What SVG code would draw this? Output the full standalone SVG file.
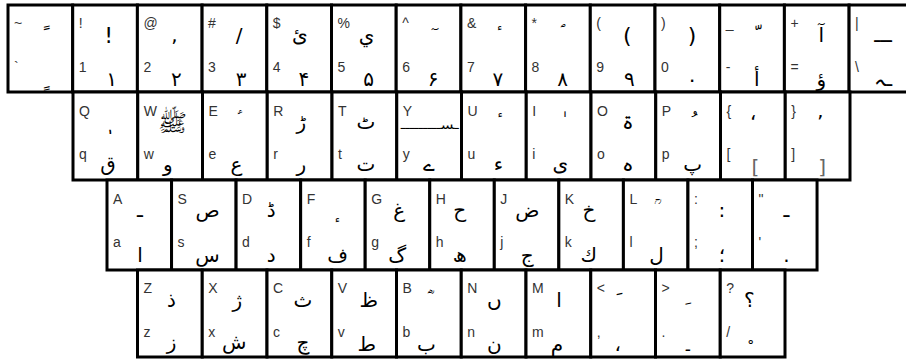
<svg xmlns="http://www.w3.org/2000/svg" width="906" height="360" viewBox="0 0 906 360">
<style>
.k{fill:#fff;stroke:#000;stroke-width:3}
.l{font-family:"Liberation Sans",Arial,sans-serif;font-size:14px;fill:#333}
.a{font-family:"DejaVu Sans",sans-serif;font-size:20px;fill:#000;text-anchor:middle}
.g{fill:#666}
</style>
<rect width="906" height="360" fill="#fff"/>
<g id="row1">
<g id="k-tilde" transform="translate(8,5)"><rect class="k" width="64.7" height="87"/><text class="l" x="6" y="23">~</text><text class="l" x="6" y="67">`</text><text class="a" x="37" y="37">&#160;&#x064B;</text><text class="a" x="37" y="81">&#160;&#x064D;</text></g>
<g id="k-1" transform="translate(72.7,5)"><rect class="k" width="64.7" height="87"/><text class="l" x="6" y="23">!</text><text class="l" x="6" y="67">1</text><text class="a" x="36" y="38" style="font-size:22px">!</text><text class="a" x="39" y="81">۱</text></g>
<g id="k-2" transform="translate(137.4,5)"><rect class="k" width="64.7" height="87"/><text class="l" x="6" y="23">@</text><text class="l" x="6" y="67">2</text><text class="a" x="37" y="37">,</text><text class="a" x="39" y="81">۲</text></g>
<g id="k-3" transform="translate(202.1,5)"><rect class="k" width="64.7" height="87"/><text class="l" x="6" y="23">#</text><text class="l" x="6" y="67">3</text><text class="a" x="37" y="37">/</text><text class="a" x="39" y="81">۳</text></g>
<g id="k-4" transform="translate(266.8,5)"><rect class="k" width="64.7" height="87"/><text class="l" x="6" y="23">$</text><text class="l" x="6" y="67">4</text><text class="a" x="33" y="37">ئ</text><text class="a" x="37" y="81">۴</text></g>
<g id="k-5" transform="translate(331.5,5)"><rect class="k" width="64.7" height="87"/><text class="l" x="6" y="23">%</text><text class="l" x="6" y="67">5</text><text class="a" x="35" y="37">ي</text><text class="a" x="37" y="81">۵</text></g>
<g id="k-6" transform="translate(396.2,5)"><rect class="k" width="64.7" height="87"/><text class="l" x="6" y="23">^</text><text class="l" x="6" y="67">6</text><text class="a" x="37" y="37">&#160;&#x0653;</text><text class="a" x="37" y="81">۶</text></g>
<g id="k-7" transform="translate(460.9,5)"><rect class="k" width="64.7" height="87"/><text class="l" x="6" y="23">&amp;</text><text class="l" x="6" y="67">7</text><text class="a" x="37" y="37">&#160;&#x0654;</text><text class="a" x="37" y="81">۷</text></g>
<g id="k-8" transform="translate(525.6,5)"><rect class="k" width="64.7" height="87"/><text class="l" x="6" y="23">*</text><text class="l" x="6" y="67">8</text><text class="a" x="37" y="37">&#160;&#x0610;</text><text class="a" x="37" y="81">۸</text></g>
<g id="k-9" transform="translate(590.3,5)"><rect class="k" width="64.7" height="87"/><text class="l" x="6" y="23">(</text><text class="l" x="6" y="67">9</text><text class="a" x="37" y="38" style="font-size:22px">(</text><text class="a" x="39" y="81">۹</text></g>
<g id="k-0" transform="translate(655,5)"><rect class="k" width="64.7" height="87"/><text class="l" x="6" y="23">)</text><text class="l" x="6" y="67">0</text><text class="a" x="37" y="38" style="font-size:22px">)</text><text class="a" x="37" y="81">۰</text></g>
<g id="k-minus" transform="translate(719.7,5)"><rect class="k" width="64.7" height="87"/><text class="l" x="6" y="23">_</text><text class="l" x="6" y="67">-</text><text class="a" x="37" y="37">&#160;&#x0651;</text><text class="a" x="37" y="81">أ</text></g>
<g id="k-equal" transform="translate(784.4,5)"><rect class="k" width="64.7" height="87"/><text class="l" x="6" y="23">+</text><text class="l" x="6" y="67">=</text><text class="a" x="37" y="37">آ</text><text class="a" x="37" y="81">ؤ</text></g>
<g id="k-backslash" transform="translate(849.1,5)"><rect class="k" width="64.7" height="87"/><text class="l" x="6" y="23">|</text><text class="l" x="6" y="67">\</text><text class="a" x="34" y="37">ـــ</text><text class="a" x="34" y="81">ـہ</text></g>
</g>
<g id="row2">
<g id="k-q" transform="translate(73,92)"><rect class="k" width="64.75" height="88"/><text class="l" x="6" y="24">Q</text><text class="l" x="6" y="67">q</text><text class="a" x="37" y="37">&#160;&#x0656;</text><text class="a" x="35" y="79">ق</text></g>
<g id="k-w" transform="translate(137.75,92)"><rect class="k" width="64.75" height="88"/><text class="l" x="6" y="24">W</text><text class="l" x="6" y="67">w</text><text class="a" x="35" y="39" style="font-size:24px">ﷺ</text><text class="a" x="30" y="79">و</text></g>
<g id="k-e" transform="translate(202.5,92)"><rect class="k" width="64.75" height="88"/><text class="l" x="6" y="24">E</text><text class="l" x="6" y="67">e</text><text class="a" x="37" y="37">&#160;&#x0611;</text><text class="a" x="34" y="79">ع</text></g>
<g id="k-r" transform="translate(267.25,92)"><rect class="k" width="64.75" height="88"/><text class="l" x="6" y="24">R</text><text class="l" x="6" y="67">r</text><text class="a" x="34" y="37">ڑ</text><text class="a" x="34" y="79">ر</text></g>
<g id="k-t" transform="translate(332,92)"><rect class="k" width="64.75" height="88"/><text class="l" x="6" y="24">T</text><text class="l" x="6" y="67">t</text><text class="a" x="34" y="37">ٹ</text><text class="a" x="34" y="79">ت</text></g>
<g id="k-y" transform="translate(396.75,92)"><rect class="k" width="64.75" height="88"/><text class="l" x="6" y="24">Y</text><text class="l" x="6" y="67">y</text><text class="a" x="33" y="37" style="font-size:12px" textLength="58" lengthAdjust="spacingAndGlyphs">ـســـــــــ</text><text class="a" x="32" y="79">ے</text></g>
<g id="k-u" transform="translate(461.5,92)"><rect class="k" width="64.75" height="88"/><text class="l" x="6" y="24">U</text><text class="l" x="6" y="67">u</text><text class="a" x="37" y="37">&#160;&#x0654;</text><text class="a" x="37" y="79">ء</text></g>
<g id="k-i" transform="translate(526.25,92)"><rect class="k" width="64.75" height="88"/><text class="l" x="6" y="24">I</text><text class="l" x="6" y="67">i</text><text class="a" x="37" y="37">&#160;&#x0670;</text><text class="a" x="34" y="79">ی</text></g>
<g id="k-o" transform="translate(591,92)"><rect class="k" width="64.75" height="88"/><text class="l" x="6" y="24">O</text><text class="l" x="6" y="67">o</text><text class="a" x="37" y="37">ۃ</text><text class="a" x="37" y="79">ہ</text></g>
<g id="k-p" transform="translate(655.75,92)"><rect class="k" width="64.75" height="88"/><text class="l" x="6" y="24">P</text><text class="l" x="6" y="67">p</text><text class="a" x="37" y="37">&#160;&#x064F;</text><text class="a" x="37" y="79">پ</text></g>
<g id="k-lbrace" transform="translate(720.5,92)"><rect class="k" width="64.75" height="88"/><text class="l" x="6" y="24">{</text><text class="l" x="6" y="67">[</text><text class="a" x="33" y="37">‘</text><text class="a g" x="35" y="82">[</text></g>
<g id="k-rbrace" transform="translate(785.25,92)"><rect class="k" width="64.75" height="88"/><text class="l" x="6" y="24">}</text><text class="l" x="6" y="67">]</text><text class="a" x="35" y="37">’</text><text class="a g" x="37" y="82">]</text></g>
</g>
<g id="row3">
<g id="k-a" transform="translate(107,180)"><rect class="k" width="64.55" height="90"/><text class="l" x="6" y="24">A</text><text class="l" x="6" y="67">a</text><text class="a" x="33" y="37">ـ</text><text class="a" x="33" y="82">ا</text></g>
<g id="k-s" transform="translate(171.55,180)"><rect class="k" width="64.55" height="90"/><text class="l" x="6" y="24">S</text><text class="l" x="6" y="67">s</text><text class="a" x="36" y="37">ص</text><text class="a" x="36" y="82">س</text></g>
<g id="k-d" transform="translate(236.1,180)"><rect class="k" width="64.55" height="90"/><text class="l" x="6" y="24">D</text><text class="l" x="6" y="67">d</text><text class="a" x="35" y="37">ڈ</text><text class="a" x="35" y="82">د</text></g>
<g id="k-f" transform="translate(300.65,180)"><rect class="k" width="64.55" height="90"/><text class="l" x="6" y="24">F</text><text class="l" x="6" y="67">f</text><text class="a" x="35" y="37">&#160;&#x0655;</text><text class="a" x="37" y="82">ف</text></g>
<g id="k-g" transform="translate(365.2,180)"><rect class="k" width="64.55" height="90"/><text class="l" x="6" y="24">G</text><text class="l" x="6" y="67">g</text><text class="a" x="34" y="37">غ</text><text class="a" x="32" y="82">گ</text></g>
<g id="k-h" transform="translate(429.75,180)"><rect class="k" width="64.55" height="90"/><text class="l" x="6" y="24">H</text><text class="l" x="6" y="67">h</text><text class="a" x="30" y="37">ح</text><text class="a" x="30" y="82">ھ</text></g>
<g id="k-j" transform="translate(494.3,180)"><rect class="k" width="64.55" height="90"/><text class="l" x="6" y="24">J</text><text class="l" x="6" y="67">j</text><text class="a" x="33" y="37">ض</text><text class="a" x="33" y="82">ج</text></g>
<g id="k-k" transform="translate(558.85,180)"><rect class="k" width="64.55" height="90"/><text class="l" x="6" y="24">K</text><text class="l" x="6" y="67">k</text><text class="a" x="30" y="37">خ</text><text class="a" x="30" y="82">ك</text></g>
<g id="k-l" transform="translate(623.4,180)"><rect class="k" width="64.55" height="90"/><text class="l" x="6" y="24">L</text><text class="l" x="6" y="67">l</text><text class="a" x="33" y="37">&#160;&#x0612;</text><text class="a" x="33" y="82">ل</text></g>
<g id="k-colon" transform="translate(687.95,180)"><rect class="k" width="64.55" height="90"/><text class="l" x="6" y="24">:</text><text class="l" x="6" y="67">;</text><text class="a" x="34" y="37">:</text><text class="a" x="34" y="82">؛</text></g>
<g id="k-quote" transform="translate(752.5,180)"><rect class="k" width="64.55" height="90"/><text class="l" x="6" y="24">"</text><text class="l" x="6" y="67">'</text><text class="a" x="34" y="37">ـ</text><text class="a" x="34" y="82">.</text></g>
</g>
<g id="row4">
<g id="k-z" transform="translate(137.5,270)"><rect class="k" width="64.75" height="87"/><text class="l" x="6" y="23">Z</text><text class="l" x="6" y="67">z</text><text class="a" x="34" y="37">ذ</text><text class="a" x="34" y="79">ز</text></g>
<g id="k-x" transform="translate(202.25,270)"><rect class="k" width="64.75" height="87"/><text class="l" x="6" y="23">X</text><text class="l" x="6" y="67">x</text><text class="a" x="35" y="37">ژ</text><text class="a" x="32" y="79">ش</text></g>
<g id="k-c" transform="translate(267,270)"><rect class="k" width="64.75" height="87"/><text class="l" x="6" y="23">C</text><text class="l" x="6" y="67">c</text><text class="a" x="36" y="37">ث</text><text class="a" x="36" y="79">چ</text></g>
<g id="k-v" transform="translate(331.75,270)"><rect class="k" width="64.75" height="87"/><text class="l" x="6" y="23">V</text><text class="l" x="6" y="67">v</text><text class="a" x="37" y="37">ظ</text><text class="a" x="35" y="81">ط</text></g>
<g id="k-b" transform="translate(396.5,270)"><rect class="k" width="64.75" height="87"/><text class="l" x="6" y="23">B</text><text class="l" x="6" y="67">b</text><text class="a" x="33" y="37">&#160;&#x0613;</text><text class="a" x="30" y="81">ب</text></g>
<g id="k-n" transform="translate(461.25,270)"><rect class="k" width="64.75" height="87"/><text class="l" x="6" y="23">N</text><text class="l" x="6" y="67">n</text><text class="a" x="33" y="37">ں</text><text class="a" x="33" y="81">ن</text></g>
<g id="k-m" transform="translate(526,270)"><rect class="k" width="64.75" height="87"/><text class="l" x="6" y="23">M</text><text class="l" x="6" y="67">m</text><text class="a" x="33" y="37">ا</text><text class="a" x="31" y="81">م</text></g>
<g id="k-comma" transform="translate(590.75,270)"><rect class="k" width="64.75" height="87"/><text class="l" x="6" y="23">&lt;</text><text class="l" x="6" y="67">,</text><text class="a" x="27" y="37">&#160;&#x064E;</text><text class="a" x="27" y="81">،</text></g>
<g id="k-period" transform="translate(655.5,270)"><rect class="k" width="64.75" height="87"/><text class="l" x="6" y="23">&gt;</text><text class="l" x="6" y="67">.</text><text class="a" x="31" y="32">&#160;&#x0650;</text><text class="a" x="32" y="81">۔</text></g>
<g id="k-slash" transform="translate(720.25,270)"><rect class="k" width="64.75" height="87"/><text class="l" x="6" y="23">?</text><text class="l" x="6" y="67">/</text><text class="a" x="29" y="37">؟</text><text class="a" x="29" y="84" style="font-size:16px">&#160;&#x0652;</text></g>
</g>
</svg>
